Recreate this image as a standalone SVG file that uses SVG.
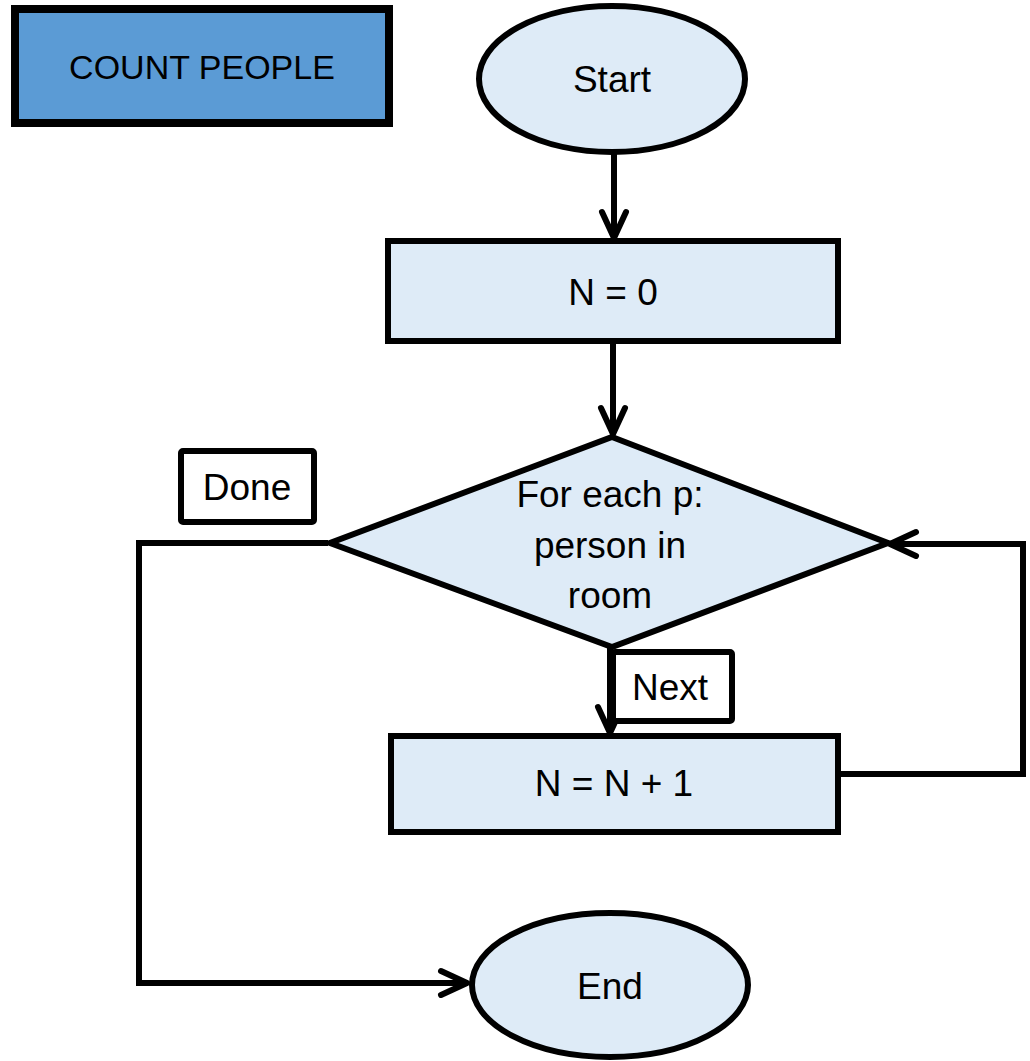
<svg xmlns="http://www.w3.org/2000/svg" width="1030" height="1061" viewBox="0 0 1030 1061">
<defs>
<style>
.node{fill:#DEEBF7;stroke:#000;stroke-width:6}
.lbl{fill:#fff;stroke:#000;stroke-width:6}
.t{font-family:"Liberation Sans",Arial,sans-serif;font-size:37px;fill:#000;text-anchor:middle}
.c{fill:none;stroke:#000;stroke-width:6}
</style>
<marker id="arr" markerUnits="userSpaceOnUse" markerWidth="40" markerHeight="40" viewBox="-32 -20 40 40" refX="0" refY="0" orient="auto">
<path d="M-26,-12 L0,0 L-26,12" fill="none" stroke="#000" stroke-width="6" stroke-linecap="round" stroke-linejoin="round"/>
</marker>
</defs>
<rect width="1030" height="1061" fill="#fff"/>
<g id="title">
<rect x="15" y="9" width="374" height="114" fill="#5B9BD5" stroke="#000" stroke-width="8"/>
<text class="t" x="202" y="79" style="font-size:34px">COUNT PEOPLE</text>
</g>
<g id="start">
<ellipse class="node" cx="612" cy="79" rx="133" ry="73"/>
<text class="t" x="612" y="92">Start</text>
</g>
<g id="init">
<rect class="node" x="388" y="241" width="450" height="100"/>
<text class="t" x="613" y="305">N = 0</text>
</g>
<g id="loop">
<polygon class="node" points="612,437 888,543 612,647 330,543"/>
<text class="t" x="610" y="507">For each p:</text>
<text class="t" x="610" y="558">person in</text>
<text class="t" x="610" y="608">room</text>
</g>
<g id="incr">
<rect class="node" x="391" y="736" width="447" height="96"/>
<text class="t" x="614" y="796">N = N + 1</text>
</g>
<g id="end">
<ellipse class="node" cx="610" cy="985" rx="138" ry="72"/>
<text class="t" x="610" y="999">End</text>
</g>
<g id="connectors">
<line class="c" x1="614" y1="152" x2="614" y2="238" marker-end="url(#arr)"/>
<line class="c" x1="613" y1="341" x2="613" y2="434" marker-end="url(#arr)"/>
<line class="c" x1="610" y1="647" x2="610" y2="733" marker-end="url(#arr)"/>
<polyline class="c" points="838,774 1023,774 1023,544 890,544" marker-end="url(#arr)"/>
<polyline class="c" points="328,543 139,543 139,983 467,983" marker-end="url(#arr)"/>
</g>
<g id="label-done">
<rect class="lbl" x="181" y="451" width="133" height="71" rx="2"/>
<text class="t" x="247" y="500">Done</text>
</g>
<g id="label-next">
<rect class="lbl" x="613" y="652" width="119" height="69" rx="2"/>
<text class="t" x="670" y="700">Next</text>
</g>
</svg>
